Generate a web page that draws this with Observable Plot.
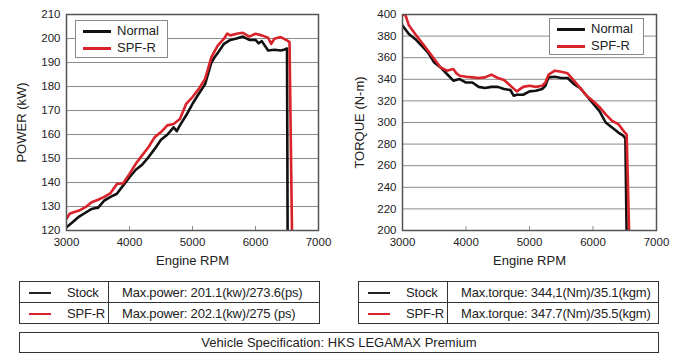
<!DOCTYPE html>
<html>
<head>
<meta charset="utf-8">
<script src="https://cdn.jsdelivr.net/npm/d3@7"></script>
<script src="https://cdn.jsdelivr.net/npm/@observablehq/plot@0.6"></script>
<style>
  html, body { margin: 0; padding: 0; background: #fff; }
  body { font-family: "Liberation Sans", Arial, sans-serif; color: #222; }
  #wrap { position: relative; width: 680px; height: 360px; overflow: hidden; }
  .panel { position: absolute; top: 0; width: 340px; height: 270px; }
  .legend { position: absolute; border: 1px solid #888; background: #fff; font-size: 13px; }
  .legend .row { position: absolute; left: 0; height: 16px; line-height: 16px; white-space: nowrap; }
  .legend .sw { display: inline-block; width: 28px; height: 3px; vertical-align: middle; margin-right: 6px; }
  table.spec { position: absolute; border-collapse: collapse; font-size: 13px; letter-spacing: -0.2px; }
  table.spec td { border: 1px solid #333; height: 20px; padding: 0; white-space: nowrap; }
  table.spec td.k { text-align: left; }
  table.spec td.v { padding-left: 13px; text-align: left; }
  .sample { display: inline-block; width: 22px; height: 2px; vertical-align: middle; margin-left: 9px; margin-right: 16px; }
  #veh { position: absolute; left: 19px; top: 332px; width: 638px; height: 19px; border: 1px solid #333; text-align: center; font-size: 13px; line-height: 19px; }
</style>
</head>
<body>
<div id="wrap">
  <div class="panel" id="p1" style="left:0"></div>
  <div class="panel" id="p2" style="left:340px"></div>
</div>
<script>
// ---- data ----
const xTicks = [3000, 4000, 5000, 6000, 7000];
const powerTicks = [120, 130, 140, 150, 160, 170, 180, 190, 200, 210];
const torqueTicks = [200, 220, 240, 260, 280, 300, 320, 340, 360, 380, 400];
const seriesNames = ["Normal", "SPF-R"];
const seriesColors = ["#111111", "#d8232a"];

const powerNormalRpm = [3000,3100,3200,3300,3400,3480,3500,3600,3700,3800,3900,4000,4100,4200,4300,4400,4500,4600,4700,4750,4800,4900,5000,5100,5200,5300,5350,5400,5500,5600,5700,5800,5900,6000,6050,6100,6200,6300,6400,6450,6500,6510];
const powerNormal = [121.4,123.5,125.8,127.4,129,129.5,129.4,132.5,134,135.3,138.8,142.2,145.3,147.4,150.5,154,157.8,159.9,163,161.4,163.8,168,172.8,177,181,190,192.2,193.9,197.8,199.4,200,200.8,199.4,199.4,198,198.9,195,195.3,195,195.3,195.8,118];

const powerSpfRpm = [3000,3050,3100,3200,3300,3400,3500,3600,3700,3800,3900,4000,4100,4200,4300,4400,4500,4600,4700,4800,4900,5000,5100,5200,5300,5400,5500,5550,5600,5700,5800,5900,6000,6100,6200,6250,6300,6400,6500,6540,6580];
const powerSpf = [124.9,127,127.5,128.3,129.7,131.8,132.8,134,135.6,139.4,139.7,143.6,147.8,151.3,154.7,158.9,161,163.8,164.4,166.5,172.8,175.6,179,183.2,192.2,197,199.9,202,201.3,202,202.4,200.8,202,201.3,200.3,197.8,199.9,200.6,199.2,198.5,118];

const torqueNormalRpm = [3000,3100,3200,3300,3400,3500,3600,3700,3800,3900,4000,4100,4200,4300,4400,4500,4600,4700,4750,4800,4900,5000,5100,5200,5250,5300,5400,5500,5600,5700,5800,5900,6000,6100,6200,6300,6400,6480,6510,6530];
const torqueNormal = [389.8,382,377.4,371.2,365,355.6,351,344.9,338.7,340.2,337,337,333,331.9,333,333,331,330,324.8,325.7,325.7,328.8,329.4,331,334,341.8,342.4,341.2,341.2,335.6,331.9,324.8,317.6,310.8,300,295.4,290.7,287.6,285,195];

const torqueSpfRpm = [3000,3050,3100,3200,3300,3400,3500,3600,3700,3800,3850,3900,4000,4100,4200,4300,4400,4500,4600,4700,4800,4900,5000,5100,5200,5250,5300,5400,5500,5600,5700,5800,5900,6000,6100,6200,6300,6400,6500,6530,6570];
const torqueSpf = [400,399,390,382,374.3,366.6,358.8,351,348,349.5,345.5,343.3,342.4,341.8,341.2,341.8,344.3,341.2,339.3,334,328.8,333,334,333,334,337,344.3,348,347,345.5,338.7,331.9,324.8,320,314.4,307.6,301.5,298.5,290.7,289,195];

const tableRows = [
  ["Stock", "Max.power: 201.1(kw)/273.6(ps)", "Max.torque: 344,1(Nm)/35.1(kgm)"],
  ["SPF-R", "Max.power: 202.1(kw)/275 (ps)", "Max.torque: 347.7(Nm)/35.5(kgm)"]
];
const vehicleText = "Vehicle Specification: HKS LEGAMAX Premium";

// ---- build ----
function toRows(rpm, vals, name) { return rpm.map((r, i) => ({rpm: r, v: vals[i], s: name})); }

function makeChart(opts) {
  const {yTicks, yLabel, normal, spf, marginLeft, marginRight, yLabelOffset} = opts;
  const yDomain = [yTicks[0], yTicks[yTicks.length - 1]];
  return Plot.plot({
    width: 340, height: 270,
    marginLeft, marginRight, marginTop: 14, marginBottom: 40,
    style: {fontFamily: "'Liberation Sans', Arial, sans-serif", fontSize: "11.5px", color: "#222", background: "transparent"},
    x: {type: "linear", domain: [xTicks[0], xTicks[xTicks.length - 1]]},
    y: {type: "linear", domain: yDomain},
    marks: [
      Plot.ruleY(yTicks, {stroke: "#8a8a8a", strokeWidth: 1}),
      Plot.line(normal, {x: "rpm", y: "v", stroke: seriesColors[0], strokeWidth: 2.6, clip: true}),
      Plot.line(spf, {x: "rpm", y: "v", stroke: seriesColors[1], strokeWidth: 2.6, clip: true}),
      Plot.frame({stroke: "#555", strokeWidth: 1.5}),
      Plot.axisX(xTicks.slice(1, -1), {tickSize: 4, dy: -4, text: null, label: null, stroke: "#888"}),
      Plot.axisX(xTicks, {tickSize: 0, tickPadding: 7, tickFormat: d => String(d), label: "Engine RPM", labelAnchor: "center", labelArrow: "none", labelOffset: 34}),
      Plot.axisY(yTicks, {tickSize: 0, tickPadding: 6, tickFormat: d => String(d), label: yLabel, labelAnchor: "center", labelArrow: "none", labelOffset: yLabelOffset})
    ]
  });
}

const c1 = makeChart({
  yTicks: powerTicks, yLabel: "POWER (kW)",
  normal: toRows(powerNormalRpm, powerNormal, seriesNames[0]),
  spf: toRows(powerSpfRpm, powerSpf, seriesNames[1]),
  marginLeft: 66, marginRight: 22, yLabelOffset: 50
});
const c2 = makeChart({
  yTicks: torqueTicks, yLabel: "TORQUE (N-m)",
  normal: toRows(torqueNormalRpm, torqueNormal, seriesNames[0]),
  spf: toRows(torqueSpfRpm, torqueSpf, seriesNames[1]),
  marginLeft: 62, marginRight: 24, yLabelOffset: 48
});
document.getElementById("p1").appendChild(c1);
document.getElementById("p2").appendChild(c2);
// axis titles slightly larger than tick labels
document.querySelectorAll(".panel svg g[aria-label='x-axis label'] text, .panel svg g[aria-label='y-axis label'] text").forEach(t => t.setAttribute("font-size", "13"));

function legend(parent, left, top, w, h) {
  const d = document.createElement("div");
  d.className = "legend";
  Object.assign(d.style, {left: left + "px", top: top + "px", width: w + "px", height: h + "px"});
  seriesNames.forEach((n, i) => {
    const r = document.createElement("div");
    r.className = "row";
    r.style.top = (2 + i * 17) + "px";
    r.style.left = "7px";
    r.innerHTML = `<span class="sw" style="background:${seriesColors[i]}"></span>${n}`;
    d.appendChild(r);
  });
  parent.appendChild(d);
}
legend(document.getElementById("p1"), 75, 20, 91, 36);
legend(document.getElementById("p2"), 209, 18, 93, 35);

function specTable(left, col, widths) {
  const t = document.createElement("table");
  t.className = "spec";
  Object.assign(t.style, {left: left + "px", top: "281px"});
  tableRows.forEach((row, i) => {
    const tr = document.createElement("tr");
    tr.innerHTML = `<td class="k" style="width:${widths[0]}px"><span class="sample" style="background:${i === 0 ? "#222" : seriesColors[1]}"></span>${row[0]}</td><td class="v" style="width:${widths[1]}px">${row[col]}</td>`;
    t.appendChild(tr);
  });
  document.getElementById("wrap").appendChild(t);
}
specTable(19, 1, [88, 197]);
specTable(358, 2, [88, 197]);

const veh = document.createElement("div");
veh.id = "veh";
veh.textContent = vehicleText;
document.getElementById("wrap").appendChild(veh);
</script>
</body>
</html>
